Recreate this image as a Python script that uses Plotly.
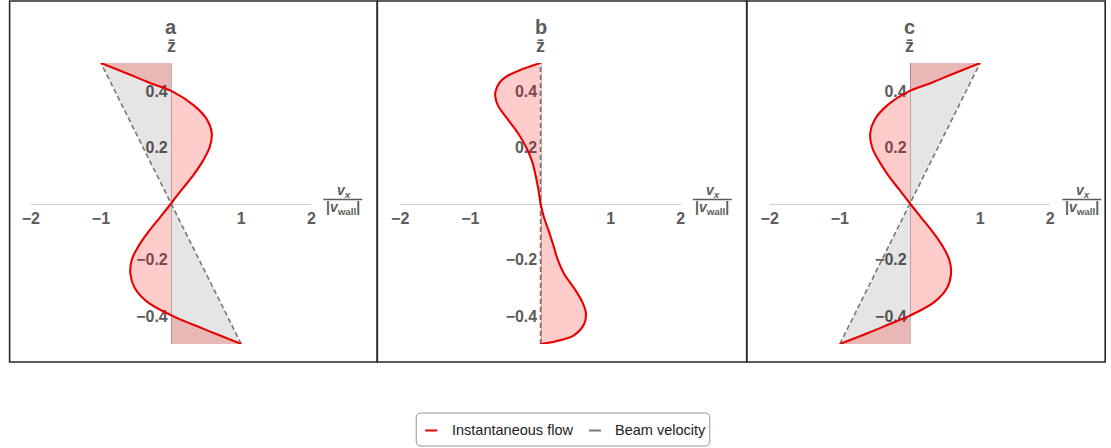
import plotly.graph_objects as go

W, H = 1111, 448

# ---------------- data ----------------
panel_letters = ["a", "b", "c"]
x_ticks = [-2, -1, 1, 2]
y_ticks = [-0.4, -0.2, 0.2, 0.4]

z_a = [-0.5, -0.46, -0.43, -0.40, -0.35, -0.30, -0.25, -0.20, -0.15, -0.10, -0.05, 0.0,
       0.05, 0.10, 0.15, 0.20, 0.25, 0.30, 0.35, 0.40, 0.43, 0.46, 0.5]
flow_a = [1.0, 0.60, 0.30, 0.02, -0.34, -0.52, -0.58, -0.56, -0.46, -0.32, -0.16, 0.0,
          0.155, 0.315, 0.45, 0.55, 0.58, 0.51, 0.32, 0.01, -0.31, -0.60, -1.0]

z_b = [-0.5, -0.49, -0.47, -0.43, -0.39, -0.35, -0.30, -0.25, -0.20, -0.15, -0.10, -0.05, 0.0,
       0.05, 0.10, 0.15, 0.20, 0.25, 0.30, 0.35, 0.38, 0.40, 0.43, 0.45, 0.475, 0.5]
flow_b = [0.0, 0.22, 0.47, 0.62, 0.647, 0.595, 0.475, 0.335, 0.245, 0.185, 0.12, 0.05, 0.0,
          -0.03, -0.07, -0.12, -0.205, -0.32, -0.47, -0.61, -0.645, -0.64, -0.585, -0.50, -0.29, 0.0]

z_c = [-0.5, -0.46, -0.43, -0.40, -0.35, -0.30, -0.25, -0.20, -0.15, -0.10, -0.05, 0.0,
       0.05, 0.10, 0.15, 0.20, 0.25, 0.30, 0.35, 0.40, 0.43, 0.46, 0.5]
flow_c = [-1.0, -0.59, -0.30, -0.01, 0.35, 0.53, 0.585, 0.56, 0.46, 0.32, 0.16, 0.0,
          -0.155, -0.31, -0.44, -0.54, -0.567, -0.50, -0.32, -0.01, 0.31, 0.60, 1.0]

z_beam = [-0.5, 0.5]
beam_a = [1.0, -1.0]
beam_b = [0.0, 0.0]
beam_c = [-1.0, 1.0]

series_names = ["Instantaneous flow", "Beam velocity"]

# ---------------- layout geometry (target pixels -> paper) ----------------
# measured: the page shows the paper starting at x~8 and slightly compressed
OFF_X, SPAN_X = 8.2, 1098.6


def px(x):
    return (x - OFF_X) / SPAN_X


def py(y):
    return 1 - y / H


panel_left = [30, 400, 770]
panel_w = 281
plot_top, plot_bot = 63, 344
frames = [(8.8, 377), (377, 747), (747, 1106)]

RED = "rgb(232,0,0)"
GREY = "rgb(120,120,120)"
TXT = "rgb(92,92,92)"
FONT = "Liberation Sans"

fig = go.Figure()
layout = dict(width=W, height=H, autosize=False, margin=dict(l=0, r=0, t=0, b=0, pad=0),
              paper_bgcolor="white", plot_bgcolor="rgba(0,0,0,0)", showlegend=False)

flows = [(z_a, flow_a), (z_b, flow_b), (z_c, flow_c)]
beams = [beam_a, beam_b, beam_c]
shapes = []
annotations = []

for i in range(3):
    sfx = "" if i == 0 else str(i + 1)
    xa, ya = "x" + sfx, "y" + sfx
    x0 = panel_left[i]
    x1 = x0 + panel_w
    yc = py((plot_top + plot_bot) / 2)
    xc = px((x0 + x1) / 2)
    layout["xaxis" + sfx] = dict(
        domain=[px(x0), px(x1)], range=[-2, 2], anchor="free", position=yc,
        showline=True, linecolor="rgb(205,205,205)", linewidth=1.2,
        showgrid=False, zeroline=False, tickvals=x_ticks, ticks="",
        tickfont=dict(family=FONT, size=16, color=TXT, weight="bold"),
        layer="below traces", fixedrange=True)
    layout["yaxis" + sfx] = dict(
        domain=[py(plot_bot), py(plot_top)], range=[-0.5, 0.5], anchor="free", position=xc,
        showline=True, linecolor="rgb(190,190,190)", linewidth=1.2,
        showgrid=False, zeroline=False, tickvals=y_ticks, ticks="",
        tickfont=dict(family=FONT, size=16, color=TXT, weight="bold"),
        layer="below traces", fixedrange=True)

    zf, vf = flows[i]
    fig.add_trace(go.Scatter(x=[0] * len(z_beam), y=z_beam, mode="lines",
                             line=dict(width=0), xaxis=xa, yaxis=ya, hoverinfo="skip"))
    fig.add_trace(go.Scatter(x=beams[i], y=z_beam, mode="lines", fill="tonextx",
                             fillcolor="rgba(0,0,0,0.10)",
                             line=dict(color=GREY, width=1.6, dash="5px,3px"),
                             name=series_names[1], xaxis=xa, yaxis=ya))
    fig.add_trace(go.Scatter(x=[0] * len(zf), y=zf, mode="lines",
                             line=dict(width=0), xaxis=xa, yaxis=ya, hoverinfo="skip"))
    fig.add_trace(go.Scatter(x=vf, y=zf, mode="lines", fill="tonextx",
                             fillcolor="rgba(255,0,0,0.20)",
                             line=dict(color=RED, width=2.1, shape="spline", smoothing=1),
                             name=series_names[0], xaxis=xa, yaxis=ya))

    fx0, fx1 = frames[i]
    shapes.append(dict(type="rect", xref="paper", yref="paper",
                       x0=px(fx0), x1=px(fx1), y0=py(362), y1=py(1),
                       line=dict(color="rgb(40,40,40)", width=1.6)))
    annotations.append(dict(xref="paper", yref="paper", x=xc, y=py(27), text=panel_letters[i],
                            showarrow=False, font=dict(family=FONT, size=20, color=TXT, weight="bold"),
                            xanchor="center", yanchor="middle"))
    annotations.append(dict(xref="paper", yref="paper", x=xc, y=py(46), text="z\u0304",
                            showarrow=False, font=dict(family=FONT, size=18, color=TXT, weight="bold"),
                            xanchor="center", yanchor="middle"))
    fcx = x1 + 31.5
    shapes.append(dict(type="line", xref="paper", yref="paper",
                       x0=px(x1 + 12), x1=px(x1 + 51), y0=py(199.5), y1=py(199.5),
                       line=dict(color=TXT, width=1.4)))
    annotations.append(dict(xref="paper", yref="paper", x=px(fcx + 1), y=py(191),
                            text="<i>v</i><sub><i>x</i></sub>", showarrow=False,
                            font=dict(family=FONT, size=14, color=TXT, weight="bold"),
                            xanchor="center", yanchor="middle"))
    annotations.append(dict(xref="paper", yref="paper", x=px(fcx), y=py(208),
                            text="|<i>v</i><sub>wall</sub>|", showarrow=False,
                            font=dict(family=FONT, size=14, color=TXT, weight="bold"),
                            xanchor="center", yanchor="middle"))

# ---------------- legend (drawn) ----------------
lx0, lx1, ly0, ly1, r = 416, 710, 413, 446, 5
path = ("M {a},{b} L {c},{b} Q {d},{b} {d},{e} L {d},{f} Q {d},{g} {c},{g} "
        "L {a},{g} Q {h},{g} {h},{f} L {h},{e} Q {h},{b} {a},{b} Z").format(
    a=px(lx0 + r), b=py(ly0), c=px(lx1 - r), d=px(lx1), e=py(ly0 + r),
    f=py(ly1 - r), g=py(ly1), h=px(lx0))
shapes.append(dict(type="path", xref="paper", yref="paper", path=path,
                   line=dict(color="rgb(150,150,150)", width=1)))
shapes.append(dict(type="line", xref="paper", yref="paper", x0=px(425), x1=px(437),
                   y0=py(430.5), y1=py(430.5), line=dict(color=RED, width=2)))
shapes.append(dict(type="line", xref="paper", yref="paper", x0=px(589), x1=px(601),
                   y0=py(430.5), y1=py(430.5), line=dict(color=GREY, width=2)))
annotations.append(dict(xref="paper", yref="paper", x=px(450), y=py(430), text=series_names[0],
                        showarrow=False, xanchor="left", yanchor="middle",
                        font=dict(family=FONT, size=14.5, color="rgb(34,34,34)")))
annotations.append(dict(xref="paper", yref="paper", x=px(613), y=py(430), text=series_names[1],
                        showarrow=False, xanchor="left", yanchor="middle",
                        font=dict(family=FONT, size=14.5, color="rgb(34,34,34)")))

layout["shapes"] = shapes
layout["annotations"] = annotations
fig.update_layout(**layout)
fig.write_html("out.html")
